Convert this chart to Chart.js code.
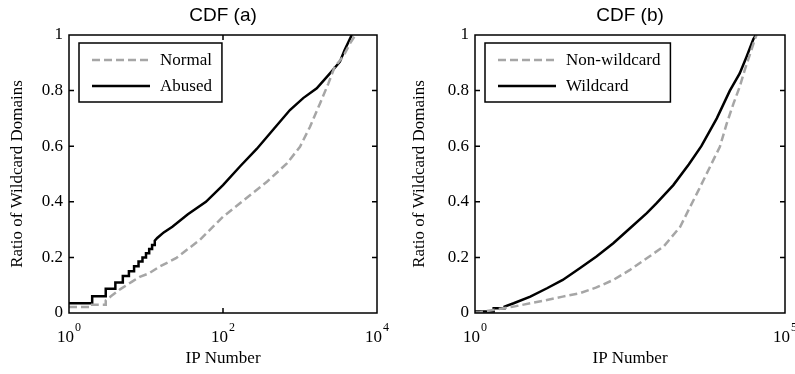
<!DOCTYPE html>
<html>
<head>
<meta charset="utf-8">
<script src="https://cdn.jsdelivr.net/npm/chart.js@4/dist/chart.umd.min.js"></script>
<style>
  html, body { margin: 0; padding: 0; background: #fff; }
  #wrap { position: relative; width: 795px; height: 374px; overflow: hidden; }
  #c1 { position: absolute; left: 0; top: 0; }
  #c2 { position: absolute; left: 400px; top: 0; }
</style>
</head>
<body>
<div id="wrap">
  <canvas id="c1" width="400" height="374"></canvas>
  <canvas id="c2" width="395" height="374"></canvas>
</div>
<script>
// CDF (a): IP numbers and cumulative ratios
var normalX = [1, 2, 2, 3, 3, 3.5, 4.6, 6.6, 8.3, 11, 15, 24.5, 50, 100, 166, 372, 676, 1000, 1350, 1820, 2340, 2820, 3630, 4470, 5250];
var normalY = [0.022, 0.022, 0.03, 0.03, 0.045, 0.06, 0.085, 0.113, 0.13, 0.143, 0.167, 0.197, 0.263, 0.346, 0.395, 0.472, 0.538, 0.598, 0.67, 0.754, 0.826, 0.886, 0.922, 0.97, 1.0];
var abusedX = [1, 2, 2, 3, 3, 4, 4, 5, 5, 6, 6, 7, 7, 8, 8, 9, 9, 10, 10, 11, 11, 12, 12, 13, 13, 14, 17, 22, 35, 60, 100, 166, 274, 450, 740, 1100, 1650, 2450, 3300, 3800, 4270, 4700];
var abusedY = [0.035, 0.035, 0.06, 0.06, 0.087, 0.087, 0.11, 0.11, 0.133, 0.133, 0.15, 0.15, 0.168, 0.168, 0.185, 0.185, 0.2, 0.2, 0.215, 0.215, 0.23, 0.23, 0.245, 0.245, 0.26, 0.27, 0.29, 0.31, 0.355, 0.40, 0.46, 0.527, 0.59, 0.66, 0.73, 0.773, 0.808, 0.862, 0.904, 0.946, 0.976, 1.0];

// CDF (b)
var nonWildX = [1, 1.2, 4.2, 7.8, 14.5, 26, 49, 91, 170, 316, 590, 1100, 2040, 2950, 4000, 6300, 8900, 11500, 14800, 18600, 22400, 27500, 33100, 34700];
var nonWildY = [0.002, 0.003, 0.023, 0.035, 0.047, 0.059, 0.071, 0.092, 0.119, 0.155, 0.197, 0.239, 0.31, 0.382, 0.44, 0.53, 0.598, 0.682, 0.754, 0.814, 0.874, 0.934, 0.988, 1.0];
var wildX = [1, 2, 2, 3, 3, 4.2, 7.8, 14.5, 26, 49, 91, 170, 316, 590, 850, 1580, 2820, 4470, 7940, 12900, 18600, 24000, 30900, 33900];
var wildY = [0.005, 0.005, 0.017, 0.017, 0.023, 0.035, 0.059, 0.089, 0.119, 0.161, 0.203, 0.251, 0.305, 0.359, 0.395, 0.46, 0.535, 0.60, 0.70, 0.80, 0.862, 0.922, 0.985, 1.0];

// x tick values and their labels (base, exponent)
var ticksA = [1, 100, 10000];
var tickLabelsA = [["10", "0"], ["10", "2"], ["10", "4"]];
var ticksB = [1, 100000];
var tickLabelsB = [["10", "0"], ["10", "5"]];

var SERIF = "'Liberation Serif', 'Times New Roman', serif";
var SANS = "'Liberation Sans', Arial, sans-serif";

function pts(xs, ys) {
    return xs.map(function (x, i) { return { x: x, y: ys[i] }; });
}

// box, inward ticks, superscript x labels, boxed legend (MATLAB look)
var matlabLook = {
    id: "matlabLook",
    afterDraw: function (chart, args, opts) {
        var ctx = chart.ctx, a = chart.chartArea;
        var xs = chart.scales.x, ys = chart.scales.y;
        ctx.save();
        ctx.strokeStyle = "#000";
        ctx.lineWidth = 1.5;
        ctx.strokeRect(a.left, a.top, a.right - a.left, a.bottom - a.top);

        ctx.beginPath();
        ys.ticks.forEach(function (t) {
            if (t.value <= 0 || t.value >= 1) return;
            var py = ys.getPixelForValue(t.value);
            ctx.moveTo(a.left, py); ctx.lineTo(a.left + 5, py);
            ctx.moveTo(a.right, py); ctx.lineTo(a.right - 5, py);
        });
        opts.ticks.forEach(function (v, i) {
            if (i === 0 || i === opts.ticks.length - 1) return;
            var px = xs.getPixelForValue(v);
            ctx.moveTo(px, a.bottom); ctx.lineTo(px, a.bottom - 5);
            ctx.moveTo(px, a.top); ctx.lineTo(px, a.top + 5);
        });
        ctx.stroke();

        // x tick labels with superscript
        ctx.fillStyle = "#000";
        ctx.textBaseline = "alphabetic";
        ctx.textAlign = "left";
        opts.ticks.forEach(function (v, i) {
            var px = xs.getPixelForValue(v);
            var lab = opts.labels[i];
            ctx.font = "17px " + SERIF;
            var wb = ctx.measureText(lab[0]).width;
            ctx.font = "12px " + SERIF;
            var we = ctx.measureText(lab[1]).width;
            var x0 = px - (wb + we + 1) / 2;
            ctx.font = "17px " + SERIF;
            ctx.fillText(lab[0], x0, a.bottom + 29);
            ctx.font = "12px " + SERIF;
            ctx.fillText(lab[1], x0 + wb + 1, a.bottom + 18);
        });

        // legend
        var bx = a.left + 10, by = a.top + 8;
        ctx.font = "17px " + SERIF;
        var tw = 0;
        chart.data.datasets.forEach(function (d) { tw = Math.max(tw, ctx.measureText(d.label).width); });
        var bw = 82 + tw + 9, bh = 59;
        ctx.fillStyle = "#fff";
        ctx.fillRect(bx, by, bw, bh);
        ctx.lineWidth = 1.5;
        ctx.strokeStyle = "#000";
        ctx.strokeRect(bx, by, bw, bh);
        chart.data.datasets.forEach(function (d, i) {
            var ly = by + 17 + i * 26;
            ctx.beginPath();
            ctx.setLineDash(d.borderDash || []);
            ctx.strokeStyle = d.borderColor;
            ctx.lineWidth = d.borderWidth;
            ctx.moveTo(bx + 13, ly); ctx.lineTo(bx + 71, ly);
            ctx.stroke();
            ctx.setLineDash([]);
            ctx.fillStyle = "#000";
            ctx.textBaseline = "middle";
            ctx.fillText(d.label, bx + 81, ly + 1);
        });
        ctx.restore();
    }
};

function makeChart(id, title, xMax, yWidth, padRight, yTitlePad, sets, ticks, labels) {
    return new Chart(document.getElementById(id), {
        type: "scatter",
        data: {
            datasets: sets.map(function (s) {
                return {
                    label: s.label,
                    data: s.data,
                    showLine: true,
                    borderColor: s.color,
                    borderWidth: 2.5,
                    borderDash: s.dash,
                    pointRadius: 0,
                    tension: 0,
                    fill: false
                };
            })
        },
        options: {
            responsive: false,
            maintainAspectRatio: false,
            devicePixelRatio: 1,
            animation: false,
            events: [],
            layout: { padding: { left: 0, right: padRight, top: 0, bottom: 0 } },
            scales: {
                x: {
                    type: "logarithmic",
                    min: 1,
                    max: xMax,
                    grid: { display: false, drawTicks: false, tickLength: 0 },
                    border: { display: false },
                    ticks: { display: false },
                    title: {
                        display: true,
                        text: "IP Number",
                        color: "#000",
                        font: { family: SERIF, size: 17 },
                        padding: { top: 0, bottom: 5 }
                    },
                    afterFit: function (s) { s.height = 61; }
                },
                y: {
                    min: 0,
                    max: 1,
                    grid: { display: false, drawTicks: false, tickLength: 0 },
                    border: { display: false },
                    ticks: {
                        stepSize: 0.2,
                        padding: 6,
                        color: "#000",
                        font: { family: SERIF, size: 17 },
                        callback: function (v) { return String(Number(v.toFixed(1))); }
                    },
                    title: {
                        display: true,
                        text: "Ratio of Wildcard Domains",
                        color: "#000",
                        font: { family: SERIF, size: 17 },
                        padding: { top: yTitlePad, bottom: 0 }
                    },
                    afterFit: function (s) { s.width = yWidth; }
                }
            },
            plugins: {
                legend: { display: false },
                tooltip: { enabled: false },
                title: {
                    display: true,
                    text: title,
                    fullSize: false,
                    color: "#000",
                    font: { family: SANS, size: 19, weight: "normal" },
                    padding: { top: 4, bottom: 8.2 }
                },
                matlabLook: { ticks: ticks, labels: labels }
            }
        },
        plugins: [matlabLook]
    });
}

makeChart("c1", "CDF (a)", 10000, 69, 23, 7.8, [
    { label: "Normal", data: pts(normalX, normalY), color: "#a6a6a6", dash: [8, 4] },
    { label: "Abused", data: pts(abusedX, abusedY), color: "#000000", dash: [] }
], ticksA, tickLabelsA);

makeChart("c2", "CDF (b)", 100000, 75, 10, 9.8, [
    { label: "Non-wildcard", data: pts(nonWildX, nonWildY), color: "#a6a6a6", dash: [8, 4] },
    { label: "Wildcard", data: pts(wildX, wildY), color: "#000000", dash: [] }
], ticksB, tickLabelsB);
</script>
</body>
</html>
